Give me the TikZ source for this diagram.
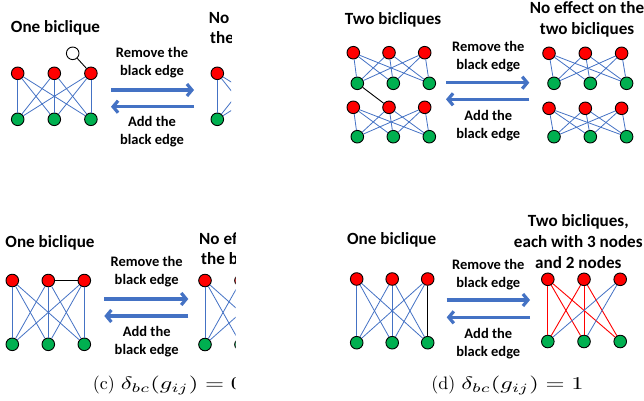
\documentclass[tikz,border=0pt]{standalone}
\usepackage{graphicx}
\usepackage{fontspec}
\newfontfamily\carl{Carlito}
\usetikzlibrary{arrows.meta}
\definecolor{nred}{HTML}{FF0000}
\definecolor{ngreen}{HTML}{00B050}
\definecolor{eblue}{HTML}{4472C4}
\definecolor{ablue}{HTML}{4472C4}
\tikzset{
 vnode/.style={circle,draw=black,line width=0.9pt,minimum size=12.6pt,inner sep=0pt},
 rn/.style={vnode,fill=nred},
 gn/.style={vnode,fill=ngreen},
 wn/.style={vnode,fill=white},
 be/.style={draw=eblue,line width=0.8pt},
 re/.style={draw=nred,line width=0.9pt},
 ke/.style={draw=black,line width=0.9pt},
 kthick/.style={draw=black,line width=1.5pt},
 barrow/.style={draw=ablue,line width=3.2pt,-{Straight Barb[length=5pt,width=12pt]}},
 ttl/.style={font=\carl\bfseries\fontsize{17.1}{20.6}\selectfont,align=center,inner sep=0pt},
 lbl/.style={font=\carl\bfseries\fontsize{14.5}{18}\selectfont,align=center,inner sep=0pt},
 captext/.style={font=\normalsize,scale=1.8,transform shape,inner sep=0pt},
}
\newcommand\rowgraph[7]{%
 \foreach \i in {1,2,3}{
   \node[rn] (#1r\i) at ({#2+(\i-1)*#6},#3) {};
   \node[gn] (#1g\i) at ({#4+(\i-1)*#7},#5) {};
 }}
\newcommand\fulledges[1]{\foreach \i in {1,2,3}{\foreach \j in {1,2,3}{\draw[be] (#1r\i) -- (#1g\j);}}}
\newcommand\wmath[1]{\scalebox{1.36}[1]{$#1$}}
\begin{document}
\begin{tikzpicture}[x=1pt,y=-1pt]
\useasboundingbox (0,0) rectangle (644,400);
\clip (0,0) rectangle (644,400);
% ---------------- panel (a)
\begin{scope}
\clip (0,0) rectangle (231,200);
\node[ttl] (atitle) at (55.5,28) {One biclique};
\rowgraph{a}{17.7}{73.3}{17.7}{119.3}{36.6}{36.6}
\fulledges{a}
\node[wn] (aw) at (72.7,53.3) {};
\draw[ke] (aw) -- (ar3);
\node[lbl] (arem) at (152,63) {Remove the\\black edge};
\node[lbl] (aadd) at (152,132) {Add the\\black edge};
\coordinate (aa1) at (111,90); \coordinate (aa2) at (194,90);
\coordinate (aa3) at (194,106.7); \coordinate (aa4) at (111,106.7);
\draw[barrow] (aa1) -- (aa2);
\draw[barrow] (aa3) -- (aa4);
\rowgraph{ab}{217.3}{73.3}{217.3}{119.3}{36.6}{36.6}
\fulledges{ab}
\node[ttl,anchor=west] (ano) at (208.7,18) {No};
\node[ttl,anchor=west] (athe) at (210,38) {the};
\end{scope}
% ---------------- panel (c)
\begin{scope}
\clip (0,200) rectangle (235.5,400);
\node[ttl] (ctitle) at (50,243.3) {One biclique};
\rowgraph{c}{12.3}{280.5}{12.3}{344.3}{36}{36}
\fulledges{c}
\draw[ke] (cr2) -- (cr3);
\node[lbl] (crem) at (146.7,272) {Remove the\\black edge};
\node[lbl] (cadd) at (146.7,341.7) {Add the\\black edge};
\coordinate (ca1) at (104.3,299); \coordinate (ca2) at (188.3,299);
\coordinate (ca3) at (188.3,316); \coordinate (ca4) at (104.3,316);
\draw[barrow] (ca1) -- (ca2);
\draw[barrow] (ca3) -- (ca4);
\rowgraph{cb}{205}{280.5}{205}{344.5}{36}{36}
\fulledges{cb}
\node[ttl,anchor=west] (cno) at (199,239) {No ef};
\node[ttl,anchor=west] (cthe) at (201,259) {the b};
\node[captext,anchor=west] (ccap) at (92.5,385.3) {(c) \wmath{\delta_{bc}(g_{ij})=0}};
\end{scope}
% ---------------- panel (b)
\node[ttl] (btitle) at (393,20) {Two bicliques};
\rowgraph{b}{353.3}{52.7}{357.3}{83.3}{35.7}{36}
\fulledges{b}
\rowgraph{bb}{353.3}{107.3}{357.3}{136.7}{35.7}{36}
\fulledges{bb}
\draw[ke] (bg1) -- (bbr2);
\node[lbl] (brem) at (488.3,56.7) {Remove the\\black edge};
\node[lbl] (badd) at (488.3,125.3) {Add the\\black edge};
\coordinate (ba1) at (446,82.7); \coordinate (ba2) at (529.3,82.7);
\coordinate (ba3) at (529.3,99.3); \coordinate (ba4) at (446,99.3);
\draw[barrow] (ba1) -- (ba2);
\draw[barrow] (ba3) -- (ba4);
\rowgraph{bc}{549}{53.3}{554}{83.3}{36.3}{36.3}
\fulledges{bc}
\rowgraph{bd}{549}{108.3}{554}{136.7}{36.3}{36.3}
\fulledges{bd}
\node[ttl] (btitle2) at (587,19.6) {No effect on the\\two bicliques};
% ---------------- panel (d)
\node[ttl] (dtitle) at (391.7,240) {One biclique};
\rowgraph{d}{356.7}{279}{356.7}{342.7}{35.5}{35.5}
\foreach \i/\j in {1/1,1/2,1/3,2/1,2/2,2/3,3/1,3/2}{\draw[be] (dr\i) -- (dg\j);}
\draw[kthick] (dr3) -- (dg3);
\node[lbl] (drem) at (488.3,274.5) {Remove the\\black edge};
\node[lbl] (dadd) at (488.3,343.8) {Add the\\black edge};
\coordinate (da1) at (446.7,300); \coordinate (da2) at (530,300);
\coordinate (da3) at (530,317.3); \coordinate (da4) at (446.7,317.3);
\draw[barrow] (da1) -- (da2);
\draw[barrow] (da3) -- (da4);
\rowgraph{db}{547.8}{279.3}{547.8}{341.5}{36.2}{36.2}
\foreach \i/\j in {1/1,1/2,1/3,2/1,2/2,2/3}{\draw[re] (dbr\i) -- (dbg\j);}
\foreach \j in {1,2}{\draw[be] (dbr3) -- (dbg\j);}
\node[ttl] (dtitle2) at (578.3,241.5) {Two bicliques,\\each with 3 nodes\\and 2 nodes};
\node[captext] (dcap) at (507.5,385.3) {(d) \wmath{\delta_{bc}(g_{ij})=1}};
\end{tikzpicture}
\end{document}
